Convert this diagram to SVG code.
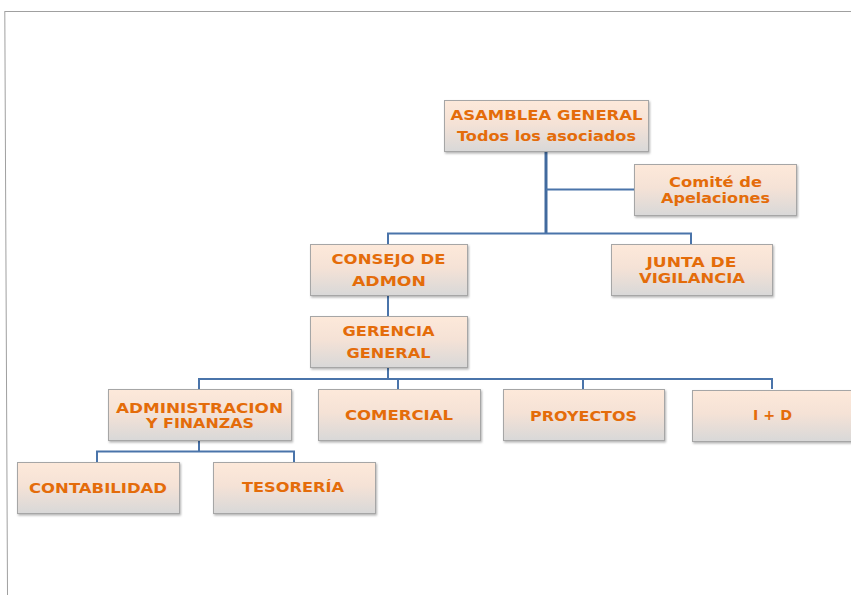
<svg xmlns="http://www.w3.org/2000/svg" width="851" height="595" viewBox="0 0 851 595">
<defs>
<linearGradient id="g" x1="0" y1="0" x2="0" y2="1">
<stop offset="0" stop-color="#fde9da"/>
<stop offset="0.45" stop-color="#f5e2d6"/>
<stop offset="1" stop-color="#d8d8d8"/>
</linearGradient>
<filter id="sh" x="-10%" y="-10%" width="120%" height="130%">
<feDropShadow dx="1" dy="1.5" stdDeviation="1" flood-color="#000" flood-opacity="0.3"/>
</filter>
</defs>
<style>
.box{fill:url(#g);stroke:#a6a6a6;stroke-width:1;filter:url(#sh)}
.t{font-family:"DejaVu Sans","Verdana",sans-serif;font-weight:bold;font-size:14.5px;fill:#e46c0a;text-anchor:middle}
.c{fill:none;stroke:#4a74aa;stroke-width:2}
.ck{fill:none;stroke:#416a9e;stroke-width:3}
.pg{fill:none;stroke:#a0a0a0;stroke-width:1}
</style>
<rect width="851" height="595" fill="#fff"/>
<path class="pg" d="M4.5,11.5 H851 M4.8,11.5 L7.5,595"/>
<g id="connectors">
<path class="ck" d="M546,151 V234"/>
<path class="c" d="M546,189.5 H634"/>
<path class="c" d="M388,244 V233.5 H691 V244"/>
<path class="c" d="M388,295 V317"/>
<path class="c" d="M388,367 V379"/>
<path class="c" d="M199,389 V379 H772 V389"/>
<path class="c" d="M398,379 V389"/>
<path class="c" d="M583,379 V389"/>
<path class="c" d="M199,441 V451.5"/>
<path class="c" d="M97,462 V451.5 H294 V462"/>
</g>
<g id="asamblea">
<rect class="box" x="444.5" y="100.5" width="204" height="51"/>
<text class="t" x="546.5" y="119.5" textLength="192" lengthAdjust="spacingAndGlyphs">ASAMBLEA GENERAL</text>
<text class="t" x="546.5" y="140.5" textLength="179" lengthAdjust="spacingAndGlyphs">Todos los asociados</text>
</g>
<g id="comite">
<rect class="box" x="634.5" y="164.5" width="162" height="51"/>
<text class="t" x="715.5" y="186.5" textLength="93" lengthAdjust="spacingAndGlyphs">Comité de</text>
<text class="t" x="715.5" y="202.5" textLength="109" lengthAdjust="spacingAndGlyphs">Apelaciones</text>
</g>
<g id="consejo">
<rect class="box" x="310.5" y="244.5" width="157" height="51"/>
<text class="t" x="388.5" y="263.5" textLength="114" lengthAdjust="spacingAndGlyphs">CONSEJO DE</text>
<text class="t" x="389" y="285.5" textLength="74" lengthAdjust="spacingAndGlyphs">ADMON</text>
</g>
<g id="junta">
<rect class="box" x="611.5" y="244.5" width="161" height="51"/>
<text class="t" x="691.5" y="266.5" textLength="90" lengthAdjust="spacingAndGlyphs">JUNTA DE</text>
<text class="t" x="692" y="282.5" textLength="106" lengthAdjust="spacingAndGlyphs">VIGILANCIA</text>
</g>
<g id="gerencia">
<rect class="box" x="310.5" y="316.5" width="157" height="51"/>
<text class="t" x="388.5" y="335.5" textLength="92" lengthAdjust="spacingAndGlyphs">GERENCIA</text>
<text class="t" x="388.5" y="357.5" textLength="84" lengthAdjust="spacingAndGlyphs">GENERAL</text>
</g>
<g id="administracion">
<rect class="box" x="108.5" y="389.5" width="183" height="51"/>
<text class="t" x="199.5" y="412.5" textLength="167" lengthAdjust="spacingAndGlyphs">ADMINISTRACION</text>
<text class="t" x="200" y="427.5" textLength="108" lengthAdjust="spacingAndGlyphs">Y FINANZAS</text>
</g>
<g id="comercial">
<rect class="box" x="318.5" y="389.5" width="162" height="51"/>
<text class="t" x="399" y="419.5" textLength="108" lengthAdjust="spacingAndGlyphs">COMERCIAL</text>
</g>
<g id="proyectos">
<rect class="box" x="503.5" y="389.5" width="161" height="51"/>
<text class="t" x="583.5" y="420.5" textLength="107" lengthAdjust="spacingAndGlyphs">PROYECTOS</text>
</g>
<g id="imasd">
<rect class="box" x="692.5" y="390.5" width="163" height="51"/>
<text class="t" x="772.5" y="419.5" textLength="39" lengthAdjust="spacingAndGlyphs">I + D</text>
</g>
<g id="contabilidad">
<rect class="box" x="17.5" y="462.5" width="162" height="51"/>
<text class="t" x="98" y="492.5" textLength="138" lengthAdjust="spacingAndGlyphs">CONTABILIDAD</text>
</g>
<g id="tesoreria">
<rect class="box" x="213.5" y="462.5" width="162" height="51"/>
<text class="t" x="293" y="491.5" textLength="102" lengthAdjust="spacingAndGlyphs">TESORERÍA</text>
</g>
</svg>
